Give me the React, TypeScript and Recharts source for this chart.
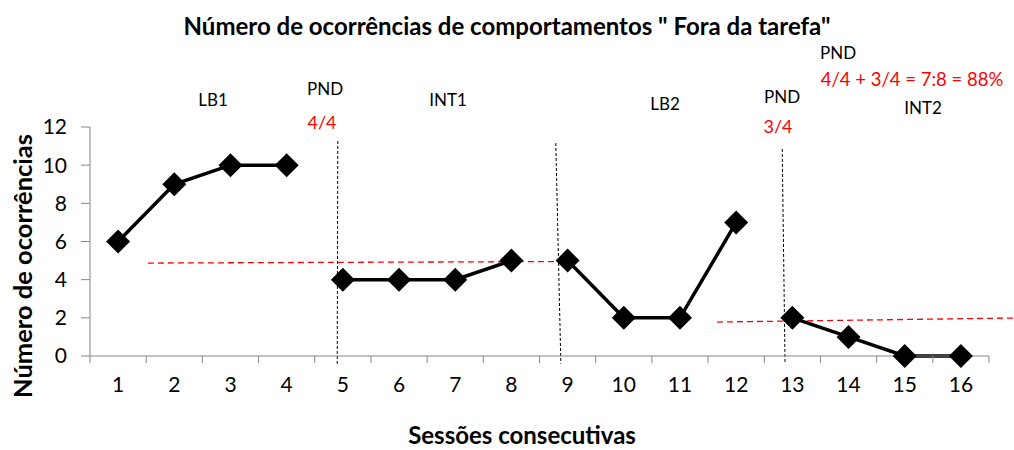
import { Line, LineChart, ReferenceLine, XAxis, YAxis } from "recharts";

// sessions on the x axis, one block of values per phase
const SESSIONS = [1, 2, 3, 4, 5, 6, 7, 8, 9, 10, 11, 12, 13, 14, 15, 16];
const LB1 = [6, 9, 10, 10];
const INT1 = [4, 4, 4, 5];
const LB2 = [5, 2, 2, 7];
const INT2 = [2, 1, 0, 0];
const PHASES = [
  { key: "lb1", first: 1, values: LB1 },
  { key: "int1", first: 5, values: INT1 },
  { key: "lb2", first: 9, values: LB2 },
  { key: "int2", first: 13, values: INT2 },
];
const Y_TICKS = [0, 2, 4, 6, 8, 10, 12];

// phase dividers (black) and trend lines (red), in data units
const DIVIDERS = [
  [{ x: 4.91, y: 11.27 }, { x: 4.9, y: -0.42 }],
  [{ x: 8.79, y: 11.16 }, { x: 8.88, y: -0.4 }],
  [{ x: 12.82, y: 10.85 }, { x: 12.87, y: -0.4 }],
];
const TRENDS = [
  [{ x: 1.53, y: 4.87 }, { x: 8.81, y: 4.95 }],
  [{ x: 11.66, y: 1.78 }, { x: 16.94, y: 1.99 }],
];

const data = SESSIONS.map((s) => {
  const row: Record<string, number | null> = { x: s };
  for (const p of PHASES) {
    const i = s - p.first;
    row[p.key] = i >= 0 && i < p.values.length ? p.values[i] : null;
  }
  return row;
});

const xTicks: number[] = [];
for (let v = 0.5; v <= 16.5; v += 0.5) xTicks.push(v);

const FONT = "Lato, 'Open Sans', sans-serif";
const AXIS = "#868686";

const Diamond = (props: any) => {
  const { cx, cy, value } = props;
  if (value == null || cx == null || cy == null) return null;
  const r = 12;
  return (
    <polygon
      points={`${cx},${cy - r} ${cx + r},${cy} ${cx},${cy + r} ${cx - r},${cy}`}
      fill="#000"
    />
  );
};

const XTick = (props: any) => {
  const { x, y, payload } = props;
  const v = payload.value as number;
  if (!Number.isInteger(v)) {
    return <line x1={x} x2={x} y1={y} y2={y + 7} stroke={AXIS} />;
  }
  return (
    <text x={x} y={y + 36} textAnchor="middle" fontSize={21} fontFamily={FONT} fill="#000">
      {v}
    </text>
  );
};

const notes = [
  { x: 213, y: 106, text: "LB1", color: "#000", size: 17 },
  { x: 325, y: 95, text: "PND", color: "#000", size: 17 },
  { x: 322, y: 129, text: "4/4", color: "#ff0000", size: 18 },
  { x: 448, y: 106, text: "INT1", color: "#000", size: 17 },
  { x: 665, y: 110, text: "LB2", color: "#000", size: 17 },
  { x: 782, y: 103, text: "PND", color: "#000", size: 17 },
  { x: 778, y: 133, text: "3/4", color: "#ff0000", size: 18 },
  { x: 838, y: 59, text: "PND", color: "#000", size: 17 },
  { x: 912, y: 86, text: "4/4 + 3/4 = 7:8 = 88%", color: "#ff0000", size: 18.5 },
  { x: 923, y: 114, text: "INT2", color: "#000", size: 17 },
];

export default function App() {
  return (
    <div style={{ position: "absolute", left: 0, top: 0, width: 1014, height: 450, background: "#fff" }}>
      <LineChart
        width={1014}
        height={450}
        data={data}
        margin={{ top: 127, right: 25, bottom: 34, left: 0 }}
      >
        <XAxis
          type="number"
          dataKey="x"
          domain={[0.5, 16.5]}
          ticks={xTicks}
          interval={0}
          tickSize={0}
          tickMargin={0}
          tickLine={false}
          tick={<XTick />}
          stroke={AXIS}
          height={60}
          allowDataOverflow
        />
        <YAxis
          type="number"
          domain={[0, 12]}
          ticks={Y_TICKS}
          interval={0}
          width={90}
          tickSize={9}
          tickMargin={14}
          stroke={AXIS}
          tick={{ fontSize: 21, fontFamily: FONT, fill: "#000" }}
        />
        {DIVIDERS.map((seg, i) => (
          <ReferenceLine
            key={`d${i}`}
            segment={seg}
            stroke="#000"
            strokeDasharray="3 2"
            strokeWidth={1}
            ifOverflow="visible"
          />
        ))}
        {TRENDS.map((seg, i) => (
          <ReferenceLine
            key={`t${i}`}
            segment={seg}
            stroke="#ff0000"
            strokeDasharray="6 4"
            strokeWidth={1.3}
            ifOverflow="visible"
          />
        ))}
        {PHASES.map((p) => (
          <Line
            key={p.key}
            dataKey={p.key}
            stroke="#000"
            strokeWidth={3.5}
            dot={<Diamond />}
            activeDot={false}
            isAnimationActive={false}
          />
        ))}
      </LineChart>
      <svg
        width={1014}
        height={450}
        style={{ position: "absolute", left: 0, top: 0, pointerEvents: "none" }}
      >
        <text x={507} y={35} textAnchor="middle" fontSize={24} fontWeight="bold" fontFamily={FONT}>
          Número de ocorrências de comportamentos " Fora da tarefa"
        </text>
        <text
          x={0}
          y={0}
          transform="translate(32,266) rotate(-90)"
          textAnchor="middle"
          fontSize={25.5}
          fontWeight="bold"
          fontFamily={FONT}
        >
          Número de ocorrências
        </text>
        <text x={522} y={444} textAnchor="middle" fontSize={24} fontWeight="bold" fontFamily={FONT}>
          Sessões consecutivas
        </text>
        {notes.map((n, i) => (
          <text key={i} x={n.x} y={n.y} textAnchor="middle" fontSize={n.size} fontFamily={FONT} fill={n.color}>
            {n.text}
          </text>
        ))}
      </svg>
    </div>
  );
}
